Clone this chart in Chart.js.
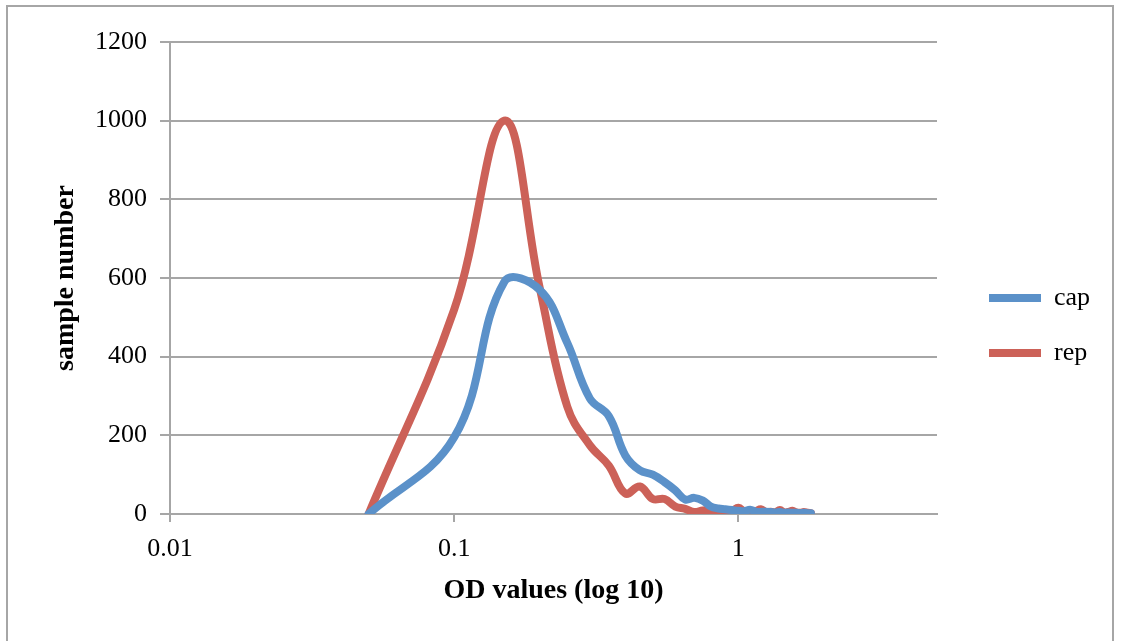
<!DOCTYPE html>
<html>
<head>
<meta charset="utf-8">
<script src="https://cdn.jsdelivr.net/npm/chart.js@4.4.1/dist/chart.umd.min.js"></script>
<style>
  html, body { margin: 0; padding: 0; background: #fff; overflow: hidden; }
  #wrap { position: relative; width: 1121px; height: 641px; }
  #myChart { position: absolute; left: 0; top: 0; }
  #frame { position: absolute; left: 6px; top: 5px; width: 1108px; height: 700px;
           border: 2px solid #a6a6a6; box-sizing: border-box; pointer-events: none; }
</style>
</head>
<body>
<div id="wrap">
  <canvas id="myChart" width="1121" height="641"></canvas>
  <div id="frame"></div>
</div>
<script>
// OD bins (x) and counts per bin
var odValues = [0.05, 0.1, 0.15, 0.2, 0.25, 0.3, 0.35, 0.4, 0.45, 0.5, 0.55, 0.6, 0.65, 0.7, 0.75, 0.8, 0.85, 0.9, 0.95, 1.0,
                1.05, 1.1, 1.15, 1.2, 1.25, 1.3, 1.35, 1.4, 1.45, 1.5, 1.55, 1.6, 1.65, 1.7, 1.75, 1.8];
var capCounts = [0, 195, 590, 570, 435, 294, 249, 149, 111, 100, 81, 60, 37, 41, 34, 19, 14, 12, 10, 8,
                 7, 11, 6, 5, 6, 5, 4, 5, 3, 4, 3, 3, 2, 3, 2, 2];
var repCounts = [0, 520, 1000, 575, 273, 175, 123, 52, 70, 38, 38, 19, 13, 5, 9, 10, 10, 10, 8, 16,
                 6, 5, 7, 12, 5, 6, 4, 10, 4, 5, 8, 4, 3, 5, 3, 2];
var seriesNames = ['cap', 'rep'];
var seriesColors = ['#5b91c9', '#cc6158'];
var xTickLabels = [0.01, 0.1, 1];
var xMin = 0.01, xMax = 5;
var yMin = 0, yMax = 1200, yStep = 200;

var serif = "'Liberation Serif', 'Times New Roman', serif";
var gridGrey = '#a6a6a6';

function toPoints(counts) {
  return odValues.map(function(v, i) { return { x: v, y: counts[i] }; });
}

// move the legend items next to the plot like in the original
var legendShift = {
  id: 'legendShift',
  afterLayout: function(chart) {
    var lg = chart.legend;
    if (!lg) return;
    var dx = (chart.chartArea.right + 52) - (lg.left + lg.options.labels.padding);
    lg.left += dx;
    lg.right = chart.width;
    lg.width = lg.right - lg.left;
    lg.top -= 6;
    lg.bottom -= 6;
  }
};

function init() {
  var ctx = document.getElementById('myChart').getContext('2d');
  var chart = new Chart(ctx, {
    type: 'line',
    data: {
      datasets: [{
        label: seriesNames[0],
        data: toPoints(capCounts),
        borderColor: seriesColors[0],
        backgroundColor: seriesColors[0],
        borderWidth: 8,
        borderCapStyle: 'round',
        borderJoinStyle: 'round',
        pointRadius: 0,
        tension: 0.4,
        fill: false
      }, {
        label: seriesNames[1],
        data: toPoints(repCounts),
        borderColor: seriesColors[1],
        backgroundColor: seriesColors[1],
        borderWidth: 8,
        borderCapStyle: 'round',
        borderJoinStyle: 'round',
        pointRadius: 0,
        tension: 0.4,
        fill: false
      }]
    },
    options: {
      responsive: false,
      animation: false,
      layout: { padding: { left: 30, top: 42, right: 84, bottom: 20 } },
      plugins: {
        tooltip: { enabled: false },
        legend: {
          position: 'right',
          maxWidth: 100,
          labels: {
            usePointStyle: true,
            pointStyle: 'line',
            pointStyleWidth: 52,
            padding: 29,
            color: '#000',
            font: { family: serif, size: 26 }
          }
        }
      },
      scales: {
        x: {
          type: 'logarithmic',
          min: xMin,
          max: xMax,
          afterBuildTicks: function(scale) {
            scale.ticks = xTickLabels.map(function(v) { return { value: v, major: true }; });
          },
          afterFit: function(scale) { scale.height = 641 - 514 - 20; },
          ticks: {
            padding: 12,
            color: '#000',
            font: { family: serif, size: 26 },
            autoSkip: false,
            maxRotation: 0,
            callback: function(v) { return String(v); }
          },
          grid: { drawOnChartArea: false, tickLength: 8, color: gridGrey, lineWidth: 2 },
          border: { color: gridGrey, width: 2 },
          title: {
            display: true,
            text: 'OD values (log 10)',
            color: '#000',
            font: { family: serif, size: 28, weight: 'bold' },
            padding: { top: 0, bottom: 13 }
          }
        },
        y: {
          min: yMin,
          max: yMax,
          afterFit: function(scale) { scale.width = 170 - 30; },
          ticks: {
            stepSize: yStep,
            padding: 13,
            color: '#000',
            font: { family: serif, size: 26 },
            callback: function(v) { return String(v); }
          },
          grid: { color: gridGrey, lineWidth: 2, tickLength: 10 },
          border: { color: gridGrey, width: 2 },
          title: {
            display: true,
            text: 'sample number',
            color: '#000',
            font: { family: serif, size: 28, weight: 'bold' },
            padding: { top: 19, bottom: 0 }
          }
        }
      }
    },
    plugins: [legendShift]
  });
}

init();
</script>
</body>
</html>
